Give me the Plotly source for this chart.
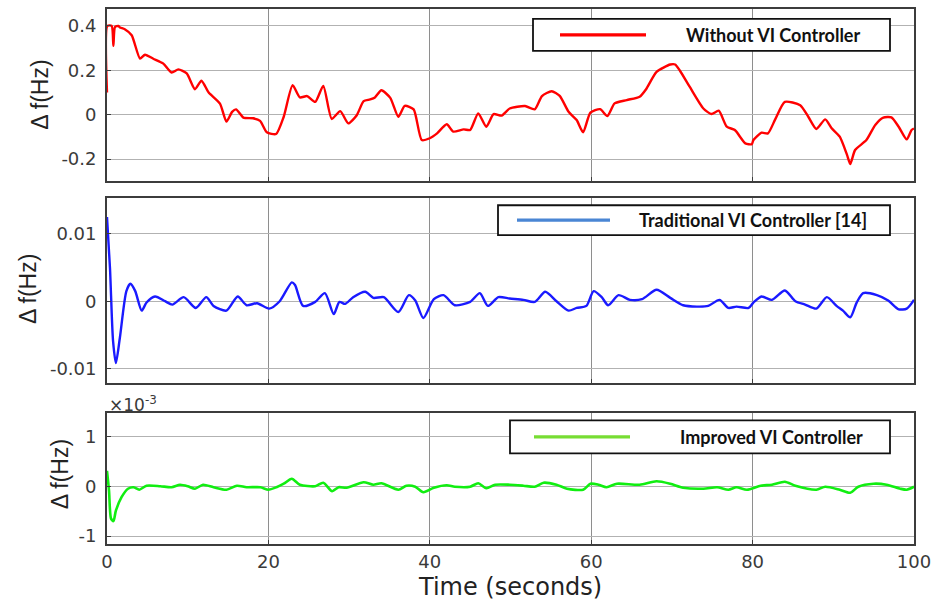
import plotly.graph_objects as go

# ---------------- data ----------------
t_wo = [0, 0.05, 0.58, 0.79, 0.99, 1.4, 1.6, 2.2, 3.06, 4.09, 4.71, 5.74, 6.98, 8.0, 8.84, 9.88,
        10.9, 11.7, 12.6, 14.0, 14.8, 15.5, 16.0, 16.9, 18.1, 18.97, 19.8, 20.95, 21.9, 23.0,
        23.9, 24.8, 25.8, 26.8, 27.85, 28.9, 29.9, 30.95, 31.8, 32.6, 33.2, 34.0, 35.1, 36.1,
        36.9, 38.0, 39.0, 40.0, 40.9, 42.1, 42.9, 44.2, 45.0, 46.0, 47.0, 47.9, 48.9, 49.9,
        51.8, 53.0, 53.9, 55.1, 56.1, 57.2, 58.2, 59.0, 59.9, 61.1, 62.0, 62.9, 64.4, 66.0,
        66.8, 68.1, 69.8, 70.4, 71.0, 72.2, 73.9, 74.9, 75.8, 76.8, 77.8, 79.1, 79.9, 80.1,
        81.1, 81.9, 82.8, 84.0, 85.9, 86.9, 87.9, 89.0, 89.8, 90.8, 91.7, 92.1, 92.7, 94.1,
        95.2, 96.2, 97.2, 98.1, 99.1, 99.7, 100.0]
v_wo = [0.10, 0.40, 0.40, 0.31, 0.395, 0.40, 0.393, 0.385, 0.358, 0.253, 0.27, 0.252, 0.23, 0.19,
        0.204, 0.186, 0.115, 0.153, 0.10, 0.05, -0.031, 0.013, 0.024, -0.013, -0.016, -0.028,
        -0.079, -0.087, -0.009, 0.133, 0.078, 0.084, 0.058, 0.13, -0.019, 0.016, -0.039,
        -0.002, 0.061, 0.069, 0.078, 0.11, 0.076, -0.009, 0.04, 0.024, -0.114, -0.106,
        -0.084, -0.043, -0.076, -0.066, -0.069, 0.006, -0.054, 0.003, -0.004, 0.028, 0.039,
        0.024, 0.084, 0.106, 0.085, 0.013, -0.024, -0.079, 0.009, 0.025, -0.006, 0.051,
        0.066, 0.081, 0.115, 0.193, 0.226, 0.226, 0.198, 0.126, 0.028, 0.003, 0.018, -0.054,
        -0.069, -0.129, -0.133, -0.114, -0.081, -0.084, -0.021, 0.058, 0.043, -0.009, -0.064,
        -0.021, -0.061, -0.099, -0.181, -0.222, -0.159, -0.114, -0.046, -0.013, -0.012,
        -0.054, -0.111, -0.069, -0.062]

t_trad = [0, 0.37, 0.75, 1.1, 1.6, 2.4, 2.9, 3.5, 4.3, 4.9, 5.95, 7.2, 8.1, 9.5, 11.0, 12.3,
          13.2, 14.8, 16.2, 17.3, 18.6, 20.1, 21.4, 22.9, 23.3, 24.3, 25.8, 27.0, 28.1, 28.8,
          29.5, 30.5, 32.0, 33.0, 34.3, 36.1, 37.4, 38.2, 39.2, 40.5, 41.7, 43.1, 45.0, 46.2,
          47.2, 48.5, 49.9, 51.6, 53.0, 54.3, 55.7, 57.2, 58.2, 59.4, 60.3, 61.3, 62.1, 63.4,
          64.8, 66.3, 68.1, 69.8, 71.4, 73.1, 74.5, 75.9, 77.0, 78.0, 79.5, 80.1, 81.1, 82.4,
          84.0, 85.3, 86.5, 87.9, 89.2, 90.4, 91.2, 92.1, 92.9, 93.7, 95.4, 96.8, 98.1, 99.1,
          100.0]
v_trad = [0.0125, 0.0049, -0.0059, -0.0092, -0.0054, 0.0015, 0.0026, 0.0015, -0.0014, -0.0002,
          0.0007, 0.0, -0.0005, 0.0006, -0.001, 0.0006, -0.0007, -0.0014, 0.0007, -0.0006,
          -0.0003, -0.0011, 0.0, 0.0028, 0.0024, -0.0007, -0.0001, 0.0012, -0.0019, -0.0001,
          -0.0004, 0.0006, 0.0014, 0.0005, 0.0006, -0.0016, 0.0009, 0.0001, -0.0025, 0.0003,
          0.0009, -0.0006, -0.0001, 0.0012, -0.0007, 0.0006, 0.0004, 0.0002, -0.0001, 0.0014,
          0.0, -0.0014, -0.001, -0.0007, 0.0015, 0.0006, -0.0006, 0.0009, 0.0002, 0.0003,
          0.0017, 0.0005, -0.0006, -0.0008, -0.0007, 0.0002, -0.001, -0.0008, -0.001, -0.0002,
          0.0007, 0.0002, 0.0016, 0.0, -0.0005, -0.0011, 0.0006, -0.0007, -0.0014, -0.0024,
          -0.0002, 0.0012, 0.0009, 0.0001, -0.0012, -0.0011, 0.0002]

t_imp = [0, 0.25, 0.5, 0.8, 1.1, 1.8, 2.6, 3.3, 4.0, 4.9, 6.6, 8.0, 9.05, 10.0, 10.9, 11.9, 13.2,
         14.8, 16.1, 17.3, 19.0, 20.0, 21.0, 21.9, 22.9, 23.9, 25.8, 26.8, 27.9, 28.7, 29.7,
         31.8, 33.0, 34.0, 36.1, 37.1, 38.2, 39.2, 40.5, 42.1, 43.1, 45.0, 46.0, 47.0, 48.1,
         49.9, 51.6, 53.0, 54.1, 55.7, 57.0, 59.0, 59.9, 60.9, 61.9, 63.2, 66.0, 68.1, 69.8,
         71.4, 73.9, 75.6, 77.0, 78.0, 79.3, 81.0, 82.4, 84.0, 85.3, 87.9, 89.0, 90.8, 92.1,
         93.1, 95.0, 96.6, 98.3, 99.1, 100.0]
v_imp_e3 = [0.31, -0.09, -0.65, -0.70, -0.49, -0.22, -0.05, -0.02, -0.07, 0.01, 0.0, -0.02,
            0.03, 0.0, -0.05, 0.03, -0.02, -0.07, 0.01, -0.02, -0.02, -0.07, -0.02, 0.05, 0.15,
            0.03, 0.0, 0.07, -0.10, -0.02, -0.03, 0.08, 0.03, 0.06, -0.07, 0.01, -0.01, -0.12,
            -0.03, 0.02, -0.01, -0.01, 0.06, -0.04, 0.03, 0.03, 0.01, -0.01, 0.07, 0.03, -0.05,
            -0.07, 0.05, 0.03, -0.02, 0.05, 0.03, 0.10, 0.05, -0.03, -0.05, -0.02, -0.07, -0.02,
            -0.07, 0.01, 0.03, 0.09, 0.01, -0.07, -0.01, -0.07, -0.13, -0.01, 0.05, 0.03, -0.05,
            -0.07, -0.01]

x_ticks = [0, 20, 40, 60, 80, 100]
x_tick_text = ["0", "20", "40", "60", "80", "100"]
y1_ticks = [-0.2, 0, 0.2, 0.4]
y1_text = ["-0.2", "0", "0.2", "0.4"]
y2_ticks = [-0.01, 0, 0.01]
y2_text = ["-0.01", "0", "0.01"]
y3_ticks = [-1, 0, 1]
y3_text = ["-1", "0", "1"]

legend_names = ["Without VI Controller", "Traditional VI Controller [14]", "Improved VI Controller"]
line_colors = ["#ff0000", "#1a1aff", "#11ee11"]
legend_colors = ["#ff0000", "#4a86d4", "#77dd33"]

# ---------------- figure ----------------
W, H = 940, 603
L, R, T, B = 107, 26, 7, 59
PW, PH = W - L - R, H - T - B


def px(x):
    return (x - L) / PW


def py(y):
    return (H - B - y) / PH


fig = go.Figure()
fig.add_trace(go.Scatter(x=t_wo, y=v_wo, mode="lines", name=legend_names[0],
                         line=dict(color=line_colors[0], width=2.4, shape="spline", smoothing=0.6),
                         xaxis="x", yaxis="y"))
fig.add_trace(go.Scatter(x=t_trad, y=v_trad, mode="lines", name=legend_names[1],
                         line=dict(color=line_colors[1], width=2.4, shape="spline", smoothing=0.7),
                         xaxis="x2", yaxis="y2"))
fig.add_trace(go.Scatter(x=t_imp, y=v_imp_e3, mode="lines", name=legend_names[2],
                         line=dict(color=line_colors[2], width=2.6, shape="spline", smoothing=0.7),
                         xaxis="x3", yaxis="y3"))

xgrid = "#8e8e8e"
ygrid = "#b2b2b2"
border = "#3c3c3c"
tickfont = dict(family="DejaVu Sans", size=18, color="#3a3a3a")

common_x = dict(range=[0, 100], tickvals=x_ticks, ticktext=x_tick_text, showgrid=True,
                gridcolor=xgrid, gridwidth=1.3, showline=True, linecolor=border, linewidth=1.8,
                mirror=True, zeroline=False, ticks="inside", ticklen=4, tickcolor=border,
                tickfont=tickfont, domain=[0, 1], ticklabelstandoff=0)
common_y = dict(showgrid=True, gridcolor=ygrid, gridwidth=1.2, showline=True, linecolor=border,
                linewidth=1.8, mirror=True, zeroline=False, ticks="inside", ticklen=4,
                tickcolor=border, tickfont=tickfont, ticklabelstandoff=5)

fig.update_layout(
    width=W, height=H, margin=dict(l=L, r=R, t=T, b=B),
    paper_bgcolor="white", plot_bgcolor="white", showlegend=False,
    xaxis=dict(common_x, anchor="y", showticklabels=False),
    xaxis2=dict(common_x, anchor="y2", showticklabels=False),
    xaxis3=dict(common_x, anchor="y3", showticklabels=True),
    yaxis=dict(common_y, anchor="x", range=[-0.3, 0.476], tickvals=y1_ticks, ticktext=y1_text,
               domain=[py(180), py(7)]),
    yaxis2=dict(common_y, anchor="x2", range=[-0.0121, 0.0153], tickvals=y2_ticks, ticktext=y2_text,
                domain=[py(382), py(197)]),
    yaxis3=dict(common_y, anchor="x3", range=[-1.16, 1.46], tickvals=y3_ticks, ticktext=y3_text,
                domain=[py(544), py(413)]),
)

ann = []
ylab_font = dict(family="Liberation Sans, Arial", size=23, color="#222222")
for xc, yc in [(40, 93), (28, 288), (60, 474)]:
    ann.append(dict(text="Δ f(Hz)", x=px(xc), y=py(yc), xref="paper", yref="paper",
                    textangle=-90, showarrow=False, font=ylab_font, xanchor="center", yanchor="middle"))
ann.append(dict(text="Time (seconds)", x=px(510), y=py(603), xref="paper", yref="paper",
                showarrow=False, font=dict(family="DejaVu Sans", size=24, color="#222222"),
                xanchor="center", yanchor="bottom"))
ann.append(dict(text="×10<sup>-3</sup>", x=px(107), y=py(403), xref="paper", yref="paper",
                showarrow=False, font=dict(family="DejaVu Sans", size=17, color="#3a3a3a"),
                xanchor="left", yanchor="middle"))

# legend boxes (drawn as shapes + text)
legend_boxes = [  # x0, x1, y0, y1, line x0, line x1, text x
    (533, 890, 17, 49, 560, 646, 684),
    (498, 890, 204, 234, 517, 610, 637),
    (510, 890, 420, 453, 534, 630, 678),
]
shapes = []
for i, (bx0, bx1, by0, by1, lx0, lx1, tx) in enumerate(legend_boxes):
    shapes.append(dict(type="rect", xref="paper", yref="paper", x0=px(bx0), x1=px(bx1),
                       y0=py(by1), y1=py(by0), line=dict(color="#111111", width=1.8),
                       fillcolor="white", layer="above"))
    yc = (by0 + by1) / 2
    shapes.append(dict(type="line", xref="paper", yref="paper", x0=px(lx0), x1=px(lx1),
                       y0=py(yc), y1=py(yc), line=dict(color=legend_colors[i], width=3.2),
                       layer="above"))
    ann.append(dict(text="<b>%s</b>" % legend_names[i], x=px(tx), y=py(yc), xref="paper",
                    yref="paper", showarrow=False, xanchor="left", yanchor="middle",
                    font=dict(family="Lato, Noto Sans", size=18, color="#111111")))

fig.update_layout(annotations=ann, shapes=shapes)
fig.write_html("out.html")
